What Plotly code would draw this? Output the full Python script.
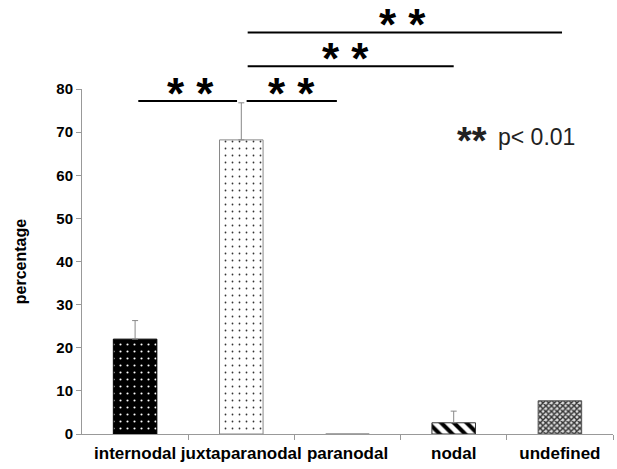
import plotly.graph_objects as go

categories = ["internodal", "juxtaparanodal", "paranodal", "nodal", "undefined"]
values = [22.0, 68.2, 0.0, 2.6, 7.7]
errors_plus = [4.3, 8.6, 0.0, 2.7, 0.0]

# significance brackets: (x start, x end, y level, star x)
sig_x0 = [0.03, 1.05, 1.06, 1.06]
sig_x1 = [0.96, 1.90, 3.00, 4.02]
sig_y = [77.2, 77.2, 85.3, 93.1]
sig_star_x = [0.52, 1.47, 1.98, 2.52]
sig_label = "* *"

legend_stars = "**"
legend_text = "p< 0.01"

FONT = "Liberation Sans, Arial, sans-serif"
x_idx = list(range(len(categories)))

styles = [
    dict(shape=".", bg="black", fg="white", size=7, sol=0.07, line="black"),
    dict(shape=".", bg="white", fg="#333333", size=7, sol=0.05, line="#888888"),
    dict(shape="", bg="white", fg="black", size=6, sol=0.3, line="#888888"),
    dict(shape="\\", bg="white", fg="black", size=9, sol=0.45, line="#333333"),
    dict(shape="x", bg="#dddddd", fg="#333333", size=4, sol=0.6, line="#555555"),
]

fig = go.Figure()
for i, st in enumerate(styles):
    pattern = dict(shape=st["shape"], bgcolor=st["bg"], fgcolor=st["fg"],
                   size=st["size"], solidity=st["sol"], fillmode="replace")
    fig.add_trace(go.Bar(
        x=[x_idx[i]], y=[values[i]], width=0.41,
        marker=dict(color=st["bg"], line=dict(color=st["line"], width=1),
                    pattern=pattern),
        error_y=dict(type="data", symmetric=False, array=[errors_plus[i]],
                     arrayminus=[0], color="#888888", thickness=1, width=3,
                     visible=errors_plus[i] > 0),
        showlegend=False,
    ))

shapes = []
annotations = []
for x0, x1, y, sx in zip(sig_x0, sig_x1, sig_y, sig_star_x):
    shapes.append(dict(type="line", xref="x", yref="paper", x0=x0, x1=x1,
                       y0=y / 80, y1=y / 80, line=dict(color="black", width=2)))
    annotations.append(dict(x=sx, y=y / 80, xref="x", yref="paper",
                            text=sig_label, showarrow=False, yanchor="middle",
                            yshift=8,
                            font=dict(family=FONT, size=44, color="black", weight="bold")))

annotations.append(dict(x=3.01, y=68.9, xref="x", yref="y", text=legend_stars,
                        showarrow=False, xanchor="left", yanchor="middle", yshift=-4,
                        font=dict(family=FONT, size=38, color="#222222", weight="bold")))
annotations.append(dict(x=3.40, y=68.9, xref="x", yref="y", text=legend_text,
                        showarrow=False, xanchor="left", yanchor="middle",
                        font=dict(family=FONT, size=23, color="#222222")))

fig.update_layout(
    width=617, height=469,
    margin=dict(l=82, r=4, t=89, b=35),
    plot_bgcolor="white", paper_bgcolor="white",
    shapes=shapes, annotations=annotations,
    barmode="overlay",
    xaxis=dict(range=[-0.5, 4.5], tickmode="array", tickvals=x_idx, ticktext=categories,
               ticks="", showline=True, linecolor="#999999", linewidth=1,
               showgrid=False, zeroline=False, tickangle=0, automargin=False,
               ticklabelstandoff=4,
               tickfont=dict(family=FONT, size=17, color="black", weight="bold"),
               minor=dict(tickmode="array", tickvals=[0.5, 1.5, 2.5, 3.5, 4.5],
                          ticks="outside", ticklen=5, tickcolor="#999999", showgrid=False)),
    yaxis=dict(range=[0, 80], dtick=10, ticks="outside", ticklen=5, tickcolor="#999999",
               showline=True, linecolor="#999999", linewidth=1, showgrid=False,
               zeroline=False,
               tickfont=dict(family=FONT, size=15, color="black", weight="bold"),
               title=dict(text="percentage", standoff=25,
                          font=dict(family=FONT, size=16, color="black", weight="bold"))),
)

fig.write_html("out.html")
